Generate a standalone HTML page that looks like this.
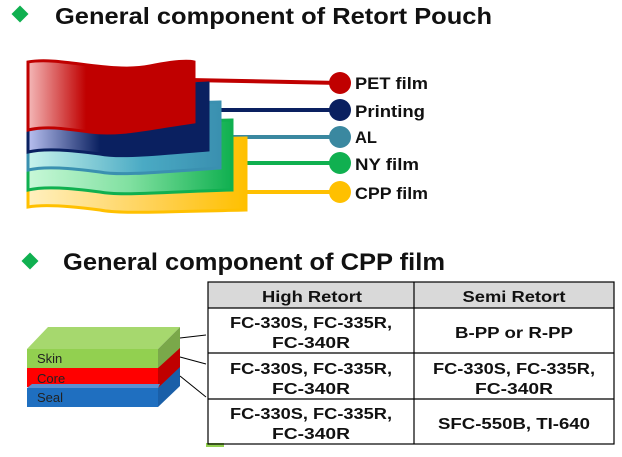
<!DOCTYPE html>
<html><head><meta charset="utf-8"><style>
body{margin:0;background:#fff;width:622px;height:452px;overflow:hidden;font-family:"Liberation Sans",sans-serif}
</style></head><body>
<svg width="622" height="452" viewBox="0 0 622 452" xmlns="http://www.w3.org/2000/svg" font-family="Liberation Sans, sans-serif">
<defs>
<linearGradient id="gr" x1="0" x2="1"><stop offset="0" stop-color="#f4b8b8"/><stop offset="0.35" stop-color="#c00000"/><stop offset="1" stop-color="#c00000"/></linearGradient>
<linearGradient id="gn" x1="0" x2="1"><stop offset="0" stop-color="#b8c0f0"/><stop offset="0.4" stop-color="#0a2060"/><stop offset="1" stop-color="#0a2060"/></linearGradient>
<linearGradient id="gt" x1="0" x2="1"><stop offset="0" stop-color="#c8f4ec"/><stop offset="0.6" stop-color="#4aaac4"/><stop offset="1" stop-color="#3a90b0"/></linearGradient>
<linearGradient id="gg" x1="0" x2="1"><stop offset="0" stop-color="#c8f8d8"/><stop offset="0.5" stop-color="#80e0a0"/><stop offset="1" stop-color="#10b050"/></linearGradient>
<linearGradient id="gy" x1="0" x2="1"><stop offset="0" stop-color="#fff0c0"/><stop offset="0.6" stop-color="#ffd050"/><stop offset="1" stop-color="#ffc000"/></linearGradient>
</defs>
<rect x="14" y="8" width="12" height="12" fill="#10b050" transform="rotate(45 20 14)"/>
<text x="55" y="24" font-size="23" font-weight="bold" fill="#111" textLength="437" lengthAdjust="spacingAndGlyphs">General component of Retort Pouch</text>
<g stroke-width="4">
<line x1="190" y1="80" x2="340" y2="83" stroke="#c00000"/>
<line x1="205" y1="110" x2="340" y2="110" stroke="#0a2060"/>
<line x1="218" y1="137" x2="340" y2="137" stroke="#3a88a0"/>
<line x1="230" y1="163" x2="340" y2="163" stroke="#10b050"/>
<line x1="244" y1="192" x2="340" y2="192" stroke="#ffc000"/>
</g>
<path d="M28 150 C90 135 160 140 246 138 L246 210 C160 212 120 214 100 210 C70 206 45 204 28 207 Z" fill="url(#gy)" stroke="#ffc000" stroke-width="3"/>
<path d="M28 130 C90 118 160 122 232 120 L232 190 C160 192 120 196 100 192 C70 188 45 186 28 190 Z" fill="url(#gg)" stroke="#10b050" stroke-width="3"/>
<path d="M28 112 C90 100 160 104 220 102 L220 168 C160 172 120 176 100 172 C70 168 45 166 28 170 Z" fill="url(#gt)" stroke="#3a90b0" stroke-width="3"/>
<path d="M28 92 C90 82 160 86 208 83 L208 150 C160 154 120 158 100 154 C70 150 45 148 28 152 Z" fill="url(#gn)" stroke="#0a2060" stroke-width="3"/>
<path d="M28 62 C60 56 110 74 150 66 C170 62 185 60 194 62 L194 122 C150 128 120 136 90 132 C60 128 45 126 28 130 Z" fill="url(#gr)" stroke="#c00000" stroke-width="3"/>
<circle cx="340" cy="83" r="11" fill="#c00000"/>
<circle cx="340" cy="110" r="11" fill="#0a2060"/>
<circle cx="340" cy="137" r="11" fill="#3a88a0"/>
<circle cx="340" cy="163" r="11" fill="#10b050"/>
<circle cx="340" cy="192" r="11" fill="#ffc000"/>
<g font-size="17" font-weight="bold" fill="#111">
<text x="355" y="89" textLength="73" lengthAdjust="spacingAndGlyphs">PET film</text>
<text x="355" y="117" textLength="70" lengthAdjust="spacingAndGlyphs">Printing</text>
<text x="355" y="143" textLength="22" lengthAdjust="spacingAndGlyphs">AL</text>
<text x="355" y="170" textLength="64" lengthAdjust="spacingAndGlyphs">NY film</text>
<text x="355" y="199" textLength="73" lengthAdjust="spacingAndGlyphs">CPP film</text>
</g>
<rect x="24" y="255" width="12" height="12" fill="#10b050" transform="rotate(45 30 261)"/>
<text x="63" y="270" font-size="24" font-weight="bold" fill="#111" textLength="382" lengthAdjust="spacingAndGlyphs">General component of CPP film</text>
<polygon points="27,349 48,327 180,327 158,349" fill="#a6d86e"/>
<polygon points="158,349 180,327 180,368 158,388" fill="#7aa84a"/>
<rect x="27" y="349" width="131" height="19" fill="#92d050"/>
<polygon points="158,368 180,348 180,368 158,388" fill="#c00000"/>
<rect x="27" y="368" width="131" height="19" fill="#ff0000"/>
<polygon points="158,388 180,367 180,386 158,407" fill="#1a5fa8"/>
<polygon points="27,388 32,384 160,384 158,388" fill="#5b8fd0"/>
<rect x="27" y="388" width="131" height="19" fill="#1f6fc0"/>
<g font-size="13" fill="#222"><text x="37" y="363">Skin</text><text x="37" y="383">Core</text><text x="37" y="402">Seal</text></g>
<g stroke="#000" stroke-width="1"><line x1="180" y1="338" x2="206" y2="335"/><line x1="180" y1="357" x2="206" y2="364"/><line x1="180" y1="376" x2="206" y2="397"/></g>
<rect x="206" y="443" width="18" height="4" fill="#92d050"/>
<rect x="208" y="282" width="406" height="26" fill="#d9d9d9"/>
<g stroke="#000" stroke-width="1.2" fill="none">
<rect x="208" y="282" width="406" height="162"/>
<line x1="208" y1="308" x2="614" y2="308"/><line x1="208" y1="353" x2="614" y2="353"/><line x1="208" y1="399" x2="614" y2="399"/>
<line x1="414" y1="282" x2="414" y2="444"/>
</g>
<g font-size="16" font-weight="bold" fill="#111" text-anchor="middle" lengthAdjust="spacingAndGlyphs">
<text x="312" y="302" textLength="100" lengthAdjust="spacingAndGlyphs">High Retort</text><text x="514" y="302" textLength="103" lengthAdjust="spacingAndGlyphs">Semi Retort</text>
<text x="311" y="328" textLength="162" lengthAdjust="spacingAndGlyphs">FC-330S, FC-335R,</text><text x="311" y="348" textLength="78" lengthAdjust="spacingAndGlyphs">FC-340R</text>
<text x="514" y="338" textLength="118" lengthAdjust="spacingAndGlyphs">B-PP or R-PP</text>
<text x="311" y="374" textLength="162" lengthAdjust="spacingAndGlyphs">FC-330S, FC-335R,</text><text x="311" y="394" textLength="78" lengthAdjust="spacingAndGlyphs">FC-340R</text>
<text x="514" y="374" textLength="162" lengthAdjust="spacingAndGlyphs">FC-330S, FC-335R,</text><text x="514" y="394" textLength="78" lengthAdjust="spacingAndGlyphs">FC-340R</text>
<text x="311" y="419" textLength="162" lengthAdjust="spacingAndGlyphs">FC-330S, FC-335R,</text><text x="311" y="439" textLength="78" lengthAdjust="spacingAndGlyphs">FC-340R</text>
<text x="514" y="429" textLength="152" lengthAdjust="spacingAndGlyphs">SFC-550B, TI-640</text>
</g>
</svg>
</body></html>
